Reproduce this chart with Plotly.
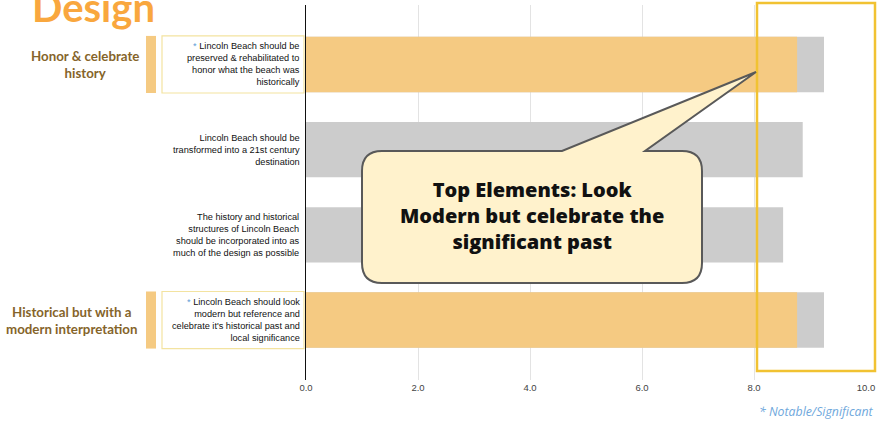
import plotly.graph_objects as go

# ---------------- data ----------------
statements = [
    "Lincoln Beach should be<br>preserved & rehabilitated to<br>honor what the beach was<br>historically",
    "Lincoln Beach should be<br>transformed into a 21st century<br>destination",
    "The history and historical<br>structures of Lincoln Beach<br>should be incorporated into as<br>much of the design as possible",
    "Lincoln Beach should look<br>modern but reference and<br>celebrate it's historical past and<br>local significance",
]
categories = ["S1", "S2", "S3", "S4"]
scores = [9.25, 8.87, 8.52, 9.25]
highlight = [8.77, None, None, 8.77]
significant = [True, False, False, True]
theme_labels = ["Honor & celebrate<br>history", None, None, "Historical but with a<br>modern interpretation"]
x_ticks = [0, 2, 4, 6, 8, 10]
title_text = "Design"
callout_text = "Top Elements: Look<br>Modern but celebrate the<br>significant past"
footnote = "* Notable/Significant"

# ---------------- layout geometry ----------------
W, H = 877, 421
L, R, T, B = 306, 866, 5, 380


def px(x):
    return (x - L) / (R - L)


def py(y):
    return (B - y) / (B - T)


fig = go.Figure()
fig.add_trace(go.Bar(
    y=categories, x=scores, orientation="h", width=0.65,
    marker=dict(color="#CCCCCC", line=dict(width=0)), showlegend=False, hoverinfo="x",
))
fig.add_trace(go.Bar(
    y=categories, x=highlight, orientation="h", width=0.65,
    marker=dict(color="#F5CA82", line=dict(width=0)), showlegend=False, hoverinfo="x",
))

shapes = []
annotations = []

for i, (cat, txt, sig, theme) in enumerate(zip(categories, statements, significant, theme_labels)):
    if sig:
        txt = "<span style='color:#5B9BD5'>*</span> " + txt
        shapes.append(dict(type="rect", xref="paper", yref="y",
                           x0=px(146), x1=px(156), y0=i - 0.335, y1=i + 0.335,
                           fillcolor="#F5CA82", line=dict(width=0), layer="above"))
        shapes.append(dict(type="rect", xref="paper", yref="y",
                           x0=px(162), x1=px(304), y0=i - 0.335, y1=i + 0.335,
                           fillcolor="white", line=dict(color="#F3E3A0", width=1.2), layer="above"))
    annotations.append(dict(
        xref="paper", yref="y", x=px(302), y=cat, xanchor="right", yanchor="middle",
        text=txt, align="right", showarrow=False,
        font=dict(family="Arial, Liberation Sans", size=9.2, color="#111111"),
    ))
    if theme:
        cx = 85 if i == 0 else 72
        annotations.append(dict(
            xref="paper", yref="y", x=px(cx), y=cat, xanchor="center", yanchor="middle",
            text="<b>" + theme + "</b>", align="center", showarrow=False,
            font=dict(family="Lato", size=13.3, color="#85642A"),
        ))

# yellow highlight frame
shapes.append(dict(type="rect", xref="paper", yref="paper",
                   x0=px(757), x1=px(875), y0=py(371), y1=py(3),
                   fillcolor="rgba(0,0,0,0)", line=dict(color="#F1C232", width=2.5), layer="above"))

# callout balloon
pts = [
    ("M", [(382, 151)]), ("L", [(562, 151)]), ("L", [(756, 72)]), ("L", [(645, 151)]),
    ("L", [(682, 151)]), ("Q", [(702, 151), (702, 171)]), ("L", [(702, 263)]),
    ("Q", [(702, 283), (682, 283)]), ("L", [(382, 283)]), ("Q", [(362, 283), (362, 263)]),
    ("L", [(362, 171)]), ("Q", [(362, 151), (382, 151)]),
]
path = ""
for cmd, pp in pts:
    path += cmd + " " + " ".join(f"{px(a):.5f},{py(b):.5f}" for a, b in pp) + " "
path += "Z"
shapes.append(dict(type="path", xref="paper", yref="paper", path=path,
                   fillcolor="#FFF2CC", line=dict(color="#595959", width=2), layer="above"))
annotations.append(dict(
    xref="paper", yref="paper", x=px(532), y=py(215), xanchor="center", yanchor="middle",
    text=callout_text, align="center", showarrow=False,
    font=dict(family="Open Sans", size=20, weight=800, color="#111111"),
))

# title
annotations.append(dict(
    xref="paper", yref="paper", x=px(93), y=py(7), xanchor="center", yanchor="middle",
    text="<b>" + title_text + "</b>", showarrow=False,
    font=dict(family="Lato", size=40, color="#F9A73E"),
))

# footnote
annotations.append(dict(
    xref="paper", yref="paper", x=px(876), y=py(411), xanchor="right", yanchor="middle",
    text="<i>" + footnote + "</i>", showarrow=False,
    font=dict(family="Open Sans", size=12.3, color="#6FA8DC"),
))

fig.update_layout(
    width=W, height=H,
    margin=dict(l=L, r=W - R, t=T, b=H - B, pad=0),
    paper_bgcolor="white", plot_bgcolor="white",
    barmode="overlay", bargap=0.35,
    shapes=shapes, annotations=annotations,
    xaxis=dict(range=[0, 10], tickvals=x_ticks, tickformat=".1f", automargin=False,
               showgrid=True, gridcolor="#E3E3E3", gridwidth=1,
               zeroline=False, showline=False, ticks="",
               tickfont=dict(family="Arial, Liberation Sans", size=9.5, color="#444444")),
    yaxis=dict(categoryorder="array", categoryarray=categories, automargin=False,
               range=[3.704, -0.698], showticklabels=False, showgrid=False,
               zeroline=False, showline=True, linecolor="#111111", linewidth=1, ticks=""),
)

fig.write_html("out.html", config={"displayModeBar": False},
               post_script="document.body.style.margin='0';document.body.style.overflow='hidden';")
